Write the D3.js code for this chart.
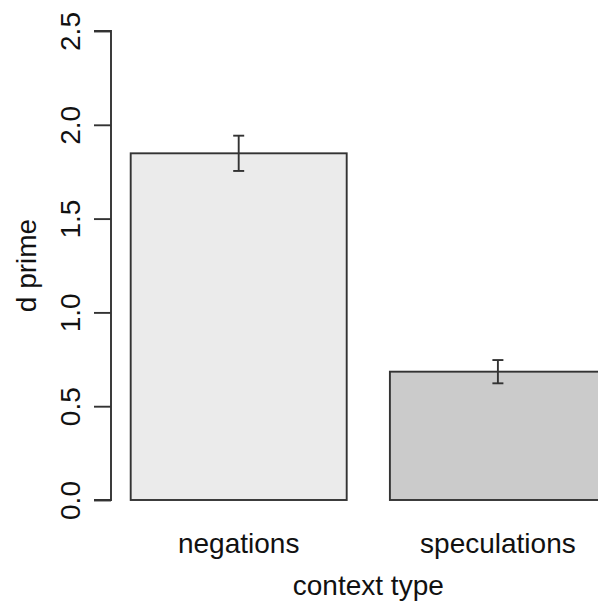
<!DOCTYPE html>
<html>
<head>
<meta charset="utf-8">
<script src="https://cdn.jsdelivr.net/npm/d3@7"></script>
<style>
  html, body { margin: 0; padding: 0; background: #fff; }
  svg { display: block; }
  text { font-family: "Liberation Sans", Arial, sans-serif; fill: #111; }
</style>
</head>
<body>
<svg id="chart" width="598" height="604"></svg>
<script>
// d prime by context type, with standard-error bars
const categories = ["negations", "speculations"];
const means = [1.848, 0.684];
const errLow = [1.754, 0.622];
const errHigh = [1.942, 0.746];
const fills = ["#ebebeb", "#cbcbcb"];
const yTicks = [0, 0.5, 1, 1.5, 2, 2.5];

const svg = d3.select("#chart");
const lineColor = "#333";
const lineWidth = 1.9;

// barplot-style coordinates: bars of width 1 separated by 0.2
const barWidth = 1, space = 0.2;
const x = d3.scaleLinear().domain([0, 2.6]).range([87.5, 87.5 + 2.6 * 216]);
const y = d3.scaleLinear().domain([0, 2.5]).range([500, 31]);

const barLeft = i => space + i * (barWidth + space);
const barMid = i => barLeft(i) + barWidth / 2;

const data = categories.map((c, i) => ({
  c, i, m: means[i], lo: errLow[i], hi: errHigh[i], fill: fills[i]
}));

// bars
svg.append("g").selectAll("rect").data(data).join("rect")
  .attr("x", d => x(barLeft(d.i)))
  .attr("y", d => y(d.m))
  .attr("width", d => x(barLeft(d.i) + barWidth) - x(barLeft(d.i)))
  .attr("height", d => y(0) - y(d.m))
  .attr("fill", d => d.fill)
  .attr("stroke", lineColor)
  .attr("stroke-width", lineWidth);

// error bars
const eb = svg.append("g").attr("stroke", lineColor).attr("stroke-width", lineWidth).attr("fill", "none");
data.forEach(d => {
  const cx = x(barMid(d.i));
  eb.append("line").attr("x1", cx).attr("x2", cx).attr("y1", y(d.hi)).attr("y2", y(d.lo));
  eb.append("line").attr("x1", cx - 5.5).attr("x2", cx + 5.5).attr("y1", y(d.hi)).attr("y2", y(d.hi));
  eb.append("line").attr("x1", cx - 5.5).attr("x2", cx + 5.5).attr("y1", y(d.lo)).attr("y2", y(d.lo));
});

// y axis
const axisX = 111;
const yAxis = svg.append("g")
  .attr("transform", `translate(${axisX},0)`)
  .call(d3.axisLeft(y).tickValues(yTicks).tickFormat(d3.format(".1f")).tickSize(17).tickPadding(0));
yAxis.select(".domain").attr("d", `M-17,${y(2.5)}H0V${y(0)}H-17`).attr("stroke", lineColor).attr("stroke-width", lineWidth);
yAxis.selectAll(".tick line").attr("stroke", lineColor).attr("stroke-width", lineWidth);
yAxis.selectAll(".tick text")
  .attr("font-size", 28)
  .attr("font-family", "Liberation Sans, Arial, sans-serif")
  .attr("fill", "#111")
  .attr("text-anchor", "middle")
  .attr("dy", null)
  .attr("x", null)
  .attr("transform", `translate(-31,0) rotate(-90)`);

// category labels
svg.append("g").selectAll("text").data(data).join("text")
  .attr("x", d => x(barMid(d.i)))
  .attr("y", 553)
  .attr("text-anchor", "middle")
  .attr("font-size", 28)
  .text(d => d.c);

// axis titles
svg.append("text")
  .attr("x", (x.range()[0] + x.range()[1]) / 2)
  .attr("y", 595)
  .attr("text-anchor", "middle")
  .attr("font-size", 28)
  .text("context type");

svg.append("text")
  .attr("transform", `translate(36,${y(1.25)}) rotate(-90)`)
  .attr("text-anchor", "middle")
  .attr("font-size", 28)
  .text("d prime");
</script>
</body>
</html>
